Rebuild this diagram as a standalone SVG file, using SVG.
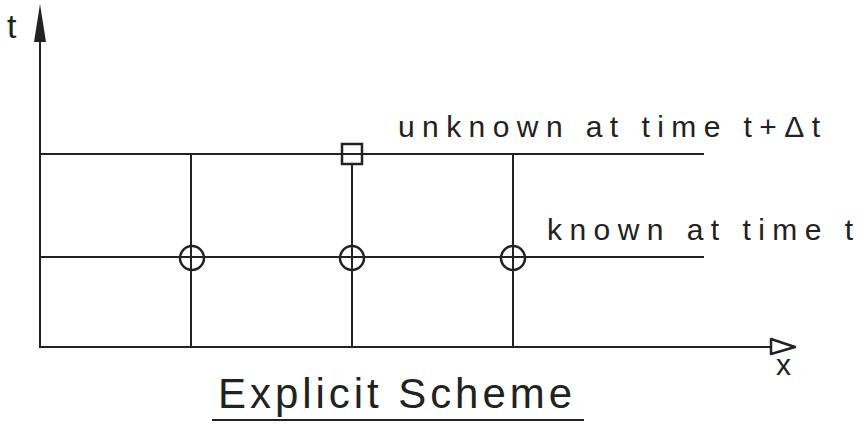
<svg xmlns="http://www.w3.org/2000/svg" width="862" height="424" viewBox="0 0 862 424">
<style>
.ln{stroke:#222;stroke-width:2;fill:none;stroke-linecap:square}
.mk{stroke:#222;stroke-width:2.5;fill:none}
.tx{font-family:"Liberation Sans",Arial,sans-serif;fill:#222}
</style>
<rect width="862" height="424" fill="#fff"/>
<g id="connectors">
<path class="ln" d="M40,40 V347 H772"/>
<path class="ln" d="M40,154 H703 M40,257 H703"/>
<path class="ln" d="M191,154 V347 M352,164 V347 M513,154 V347"/>
</g>
<g id="axis-t">
<polygon points="40,4 34,42 46,42" fill="#222"/>
<text class="tx" x="7" y="38" font-size="34">t</text>
</g>
<g id="axis-x">
<polygon points="771,339 771,354 795,347" fill="#fff" stroke="#222" stroke-width="2.5" stroke-linejoin="round"/>
<text class="tx" x="776" y="375" font-size="30">x</text>
</g>
<g id="node-unknown">
<rect class="mk" x="342" y="144" width="20" height="20"/>
</g>
<g id="node-known1"><circle class="mk" cx="192" cy="258" r="12"/></g>
<g id="node-known2"><circle class="mk" cx="352" cy="258" r="12"/></g>
<g id="node-known3"><circle class="mk" cx="513" cy="258" r="12"/></g>
<g id="label-unknown">
<text class="tx" x="398" y="137" font-size="30" textLength="422" lengthAdjust="spacing">unknown at time t+Δt</text>
</g>
<g id="label-known">
<text class="tx" x="547" y="240" font-size="30" textLength="306" lengthAdjust="spacing">known at time t</text>
</g>
<g id="title">
<text class="tx" x="218" y="408" font-size="42" textLength="354" lengthAdjust="spacing">Explicit Scheme</text>
<line class="ln" x1="213" y1="420" x2="583" y2="420"/>
</g>
</svg>
